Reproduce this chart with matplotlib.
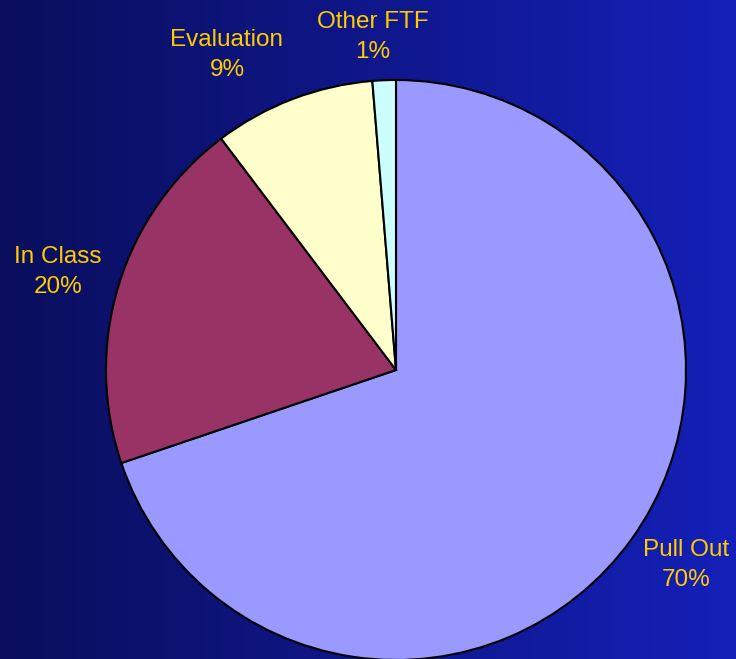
import numpy as np
import matplotlib
matplotlib.use("Agg")
import matplotlib.pyplot as plt
from matplotlib.colors import LinearSegmentedColormap

# slice data, in the order they are drawn (clockwise from the top)
labels = ["Pull Out", "In Class", "Evaluation", "Other FTF"]
values = [69.8, 19.9, 9.0, 1.3]
pct_text = ["70%", "20%", "9%", "1%"]
colors = ["#9999FF", "#993366", "#FFFFCC", "#CCFFFF"]

plt.rcParams["font.family"] = ["Liberation Sans", "DejaVu Sans"]

W, H = 736, 659
fig = plt.figure(figsize=(W / 100, H / 100), dpi=100)

# background gradient, dark navy on the left to bright blue on the right
bg = fig.add_axes([0, 0, 1, 1])
grad = np.linspace(0, 1, 256).reshape(1, -1)
cmap = LinearSegmentedColormap.from_list("bg", ["#0A0E5C", "#1420B8"])
bg.imshow(grad, aspect="auto", cmap=cmap, extent=[0, 1, 0, 1])
bg.axis("off")

# pie axes, 1 data unit = radius in pixels
r_px = 290
cx, cy = 396, H - 370
ax = fig.add_axes([0, 0, 1, 1])
ax.patch.set_alpha(0)
wedges, _ = ax.pie(values, colors=colors, startangle=90, counterclock=False,
                   wedgeprops=dict(edgecolor="black", linewidth=1.5))
ax.set_xlim(-cx / r_px, (W - cx) / r_px)
ax.set_ylim(-cy / r_px, (H - cy) / r_px)
ax.set_aspect("auto")
ax.axis("off")

# label positions (pixel coords of text centre)
label_pos = [(686, 565), (58, 272), (227, 55), (373, 37)]
for lab, pct, (px, py) in zip(labels, pct_text, label_pos):
    fig.text(px / W, 1 - py / H, lab + "\n" + pct, color="#FFCC00",
             fontsize=17.5, ha="center", va="center", linespacing=1.45)

fig.savefig("out.png", dpi=100)
